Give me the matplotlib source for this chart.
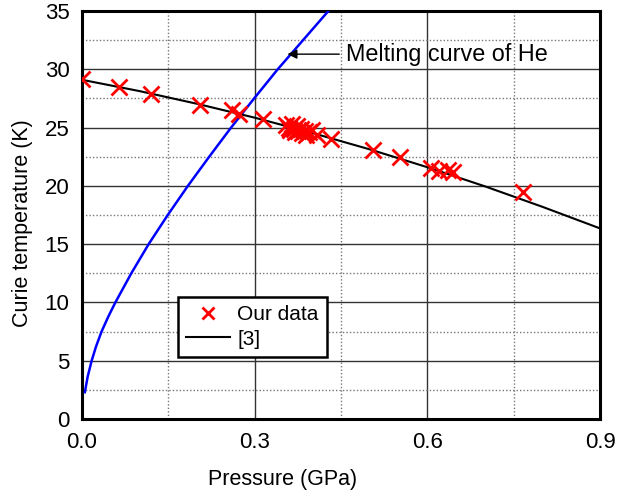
import numpy as np
import matplotlib.pyplot as plt
from matplotlib.ticker import MultipleLocator, FormatStrFormatter

# measured Curie temperatures
pressure_data = [0.0, 0.065, 0.12, 0.205, 0.26, 0.272, 0.314,
                 0.355, 0.36, 0.362, 0.365, 0.368, 0.37, 0.373, 0.376, 0.38,
                 0.383, 0.387, 0.39, 0.395, 0.399, 0.408, 0.432,
                 0.506, 0.553, 0.607, 0.62, 0.636, 0.645, 0.766]
tc_data = [29.2, 28.5, 27.85, 26.9, 26.5, 26.15, 25.7,
           25.2, 25.0, 24.8, 25.3, 24.9, 24.6, 25.1, 24.7, 24.9,
           24.5, 24.7, 24.4, 24.6, 24.8, 24.4, 24.0,
           23.05, 22.5, 21.5, 21.3, 21.4, 21.2, 19.5]

# reference [3] curve
pressure_ref = [0.0, 0.1, 0.2, 0.3, 0.4, 0.5, 0.6, 0.7, 0.8, 0.9]
tc_ref = [29.1, 28.13, 27.04, 25.85, 24.54, 23.13, 21.6, 19.96, 18.2, 16.35]

# melting curve of He
pressure_he = [0.005, 0.0099, 0.0168, 0.0243, 0.034, 0.0457, 0.058, 0.0857,
               0.1158, 0.149, 0.184, 0.221, 0.259, 0.299, 0.340, 0.384, 0.428]
t_he = [2.3, 3.63, 5.0, 6.2, 7.5, 8.78, 10.0, 12.5,
        15.0, 17.5, 20.0, 22.5, 25.0, 27.5, 30.0, 32.5, 35.0]

plt.rcParams['font.family'] = ['Liberation Sans', 'DejaVu Sans']

fig = plt.figure(figsize=(6.33, 4.94), dpi=100)
ax = fig.add_axes([0.1295, 0.1518, 0.8185, 0.8259])

ax.plot(pressure_he, t_he, color='#0000ff', lw=1.8, zorder=3)
ax.plot(pressure_ref, tc_ref, color='black', lw=1.5, label='[3]', zorder=4)
ax.plot(pressure_data, tc_data, 'x', color='#ff0000', ms=12, mew=2.0,
        label='Our data', zorder=5)

ax.set_xlim(0, 0.9)
ax.set_ylim(0, 35)
ax.xaxis.set_major_locator(MultipleLocator(0.3))
ax.xaxis.set_minor_locator(MultipleLocator(0.15))
ax.yaxis.set_major_locator(MultipleLocator(5))
ax.yaxis.set_minor_locator(MultipleLocator(2.5))
ax.xaxis.set_major_formatter(FormatStrFormatter('%.1f'))

ax.grid(which='major', color='#333333', lw=1.0, ls='-')
ax.grid(which='minor', color='#777777', lw=1.0, ls=(0, (1, 1.5)))
ax.set_axisbelow(True)
ax.tick_params(which='both', length=0, labelsize=16, pad=9)
for s in ax.spines.values():
    s.set_linewidth(2.2)

ax.set_xlabel('Pressure (GPa)', fontsize=15.5)
ax.set_ylabel('Curie temperature (K)', fontsize=15.5)
ax.xaxis.set_label_coords(0.387, -0.122)
ax.yaxis.set_label_coords(-0.095, 0.48)

ax.annotate('Melting curve of He', xy=(0.357, 31.3), xytext=(0.459, 31.3),
            va='center', ha='left', fontsize=16.8,
            arrowprops=dict(arrowstyle='-|>', color='black', lw=1.0,
                            shrinkA=3, shrinkB=0, mutation_scale=14))

leg = ax.legend(handles=ax.lines[2:0:-1], loc='lower left',
                bbox_to_anchor=(0.185, 0.152), borderaxespad=0,
                fontsize=15, markerscale=0.7, handlelength=2.1,
                fancybox=False, framealpha=1, edgecolor='black',
                borderpad=0.4, labelspacing=0.25, handletextpad=0.35)
leg.get_frame().set_linewidth(1.8)

fig.savefig('out.png', dpi=100)
